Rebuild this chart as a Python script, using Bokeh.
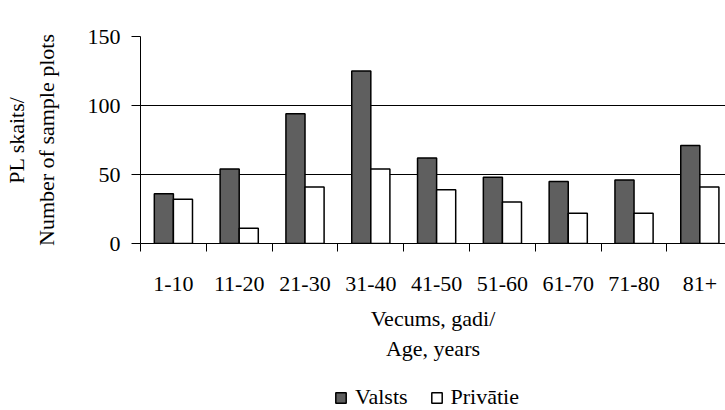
from bokeh.plotting import figure
from bokeh.layouts import column
from bokeh.models import Range1d, FixedTicker, Legend, LegendItem, ColumnDataSource
from bokeh.embed import file_html
from bokeh.resources import INLINE

categories = ["1-10", "11-20", "21-30", "31-40", "41-50", "51-60", "61-70", "71-80", "81+"]
valsts = [36, 54, 94, 125, 62, 48, 45, 46, 71]
privatie = [32, 11, 41, 54, 39, 30, 22, 22, 41]
y_ticks = [0, 50, 100, 150]
series_names = ["Valsts", "Privātie"]
series_colors = ["#5f5f5f", "white"]

FONT = "Liberation Serif"
FS = "22px"
n = len(categories)
centers = [i + 0.5 for i in range(n)]
bar_w = 0.29

src = ColumnDataSource(dict(
    xv=[c - bar_w / 2 for c in centers],
    xp=[c + bar_w / 2 for c in centers],
    valsts=valsts,
    privatie=privatie,
))

MAIN_H = 380
p = figure(width=725, height=MAIN_H, output_backend="svg", toolbar_location=None,
           x_range=Range1d(0, 8.89), y_range=Range1d(0, 150),
           min_border_left=138, min_border_right=0, min_border_top=36,
           min_border_bottom=MAIN_H - 243)
p.outline_line_color = None
p.background_fill_color = "white"
p.border_fill_color = "white"

rv = p.vbar(x="xv", top="valsts", width=bar_w, source=src, fill_color=series_colors[0],
            line_color="black", line_width=1.5)
rp = p.vbar(x="xp", top="privatie", width=bar_w, source=src, fill_color=series_colors[1],
            line_color="black", line_width=1.5)

# x axis
p.xaxis.ticker = FixedTicker(ticks=centers, minor_ticks=list(range(n + 1)))
p.xaxis.major_label_overrides = {c: lab for c, lab in zip(centers, categories)}
p.xaxis.major_tick_line_color = None
p.xaxis.major_tick_out = 0
p.xaxis.major_tick_in = 0
p.xaxis.minor_tick_out = 8
p.xaxis.minor_tick_in = 0
p.xaxis.minor_tick_line_color = "black"
p.xaxis.axis_line_color = "black"
p.xaxis.major_label_text_font = FONT
p.xaxis.major_label_text_font_size = FS
p.xaxis.major_label_text_color = "black"
p.xaxis.major_label_standoff = 25
p.xaxis.axis_label = "Vecums, gadi/\nAge, years"
p.xaxis.axis_label_text_font = FONT
p.xaxis.axis_label_text_font_size = FS
p.xaxis.axis_label_text_font_style = "normal"
p.xaxis.axis_label_text_color = "black"
p.xaxis.axis_label_standoff = 12

# y axis
p.yaxis.ticker = FixedTicker(ticks=y_ticks)
p.yaxis.major_tick_out = 9
p.yaxis.major_tick_in = 0
p.yaxis.minor_tick_line_color = None
p.yaxis.axis_line_color = "black"
p.yaxis.major_label_text_font = FONT
p.yaxis.major_label_text_font_size = FS
p.yaxis.major_label_text_color = "black"
p.yaxis.major_label_standoff = 11
p.yaxis.axis_label = "PL skaits/\nNumber of sample plots"
p.yaxis.axis_label_text_font = FONT
p.yaxis.axis_label_text_font_size = FS
p.yaxis.axis_label_text_font_style = "normal"
p.yaxis.axis_label_text_color = "black"
p.yaxis.axis_label_standoff = 26

p.xgrid.grid_line_color = None
p.ygrid.grid_line_color = "black"
p.ygrid.grid_line_width = 1

# legend strip below
LEG_H = 410 - MAIN_H
pl = figure(width=725, height=LEG_H, output_backend="svg", toolbar_location=None,
            x_range=Range1d(0, 1), y_range=Range1d(0, 1),
            min_border=0, x_axis_location=None, y_axis_location=None)
pl.outline_line_color = None
pl.grid.visible = False
lv = pl.vbar(x=[50], top=[0], bottom=[0], width=0, fill_color=series_colors[0],
             line_color="black", line_width=1.5)
lp = pl.vbar(x=[50], top=[0], bottom=[0], width=0, fill_color=series_colors[1],
             line_color="black", line_width=1.5)

legend = Legend(items=[LegendItem(label=series_names[0], renderers=[lv]),
                       LegendItem(label=series_names[1], renderers=[lp])],
                orientation="horizontal", location=(194, 0),
                border_line_color=None, background_fill_alpha=0,
                label_text_font=FONT, label_text_font_size=FS,
                label_text_color="black",
                glyph_width=13, glyph_height=13, label_standoff=8, spacing=22,
                padding=0, margin=0)
pl.add_layout(legend, "center")

layout = column(p, pl, spacing=0)
open("out.html", "w").write(file_html(layout, INLINE))
